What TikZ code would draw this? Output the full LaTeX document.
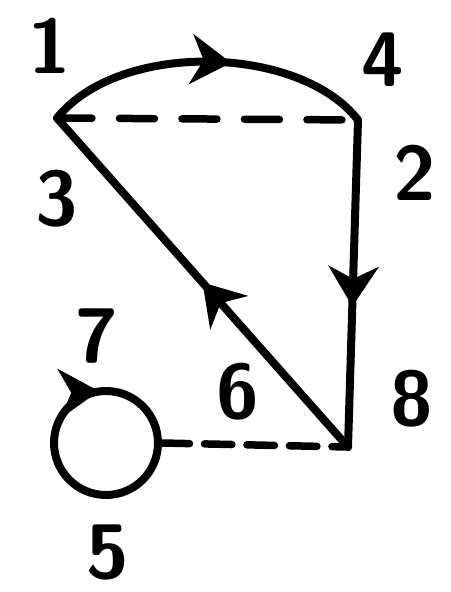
\documentclass[tikz,border=0pt]{standalone}
\usetikzlibrary{arrows.meta, decorations.markings}
\tikzset{
    edge/.style={
        line width=0.16cm, line cap=round, line join=round, color=black
    },
    midarrow/.style={
        postaction={decorate},
        decoration={markings,
            mark=at position #1 with {\arrow{Stealth[length=0.8cm, width=1cm, inset=0.25cm]}}}
    },
    midarrow/.default=0.5,
    dashedtop/.style={
        line width=0.15cm, dash pattern=on 0.7cm off 0.55cm
    },
    dashedlow/.style={
        line width=0.15cm, dash pattern=on 0.55cm off 0.3cm
    },
    loopnode/.style={
        circle, draw, line width=0.16cm, minimum size=2.08cm, inner sep=0pt
    },
    lbl/.style={
        font=\fontsize{44}{44}\selectfont\sffamily\bfseries
    }
}

\begin{document}
\begin{tikzpicture}[x=0.02cm, y=-0.02cm]
    \useasboundingbox (0,0) rectangle (450,592);

    % Vertices
    \coordinate (a) at (57,118);
    \coordinate (b) at (358,120);
    \coordinate (c) at (348,447);
    \node[loopnode] (o) at (106,443) {};

    % Labels
    \node[lbl] (l1) at (50,46) {1};
    \node[lbl] (l4) at (383,60) {4};
    \node[lbl] (l2) at (415,173) {2};
    \node[lbl] (l3) at (57,199) {3};
    \node[lbl] (l7) at (97,336) {7};
    \node[lbl] (l6) at (238,392) {6};
    \node[lbl] (l8) at (412,399) {8};
    \node[lbl] (l5) at (108,553) {5};

    % Edges
    \draw[edge, midarrow=0.57] (a) .. controls +(63,-78) and +(-58,-75) .. (b);
    \draw[edge, dashedtop] (a) -- (b);
    \draw[edge, midarrow=0.57] (b) -- (c);
    \draw[edge, midarrow] (c) -- (a);
    \draw[edge, dashedlow] (o.east) -- (c);
    \path[midarrow=0.24] (o.west) arc[start angle=180, end angle=540, radius=52];

\end{tikzpicture}
\end{document}
